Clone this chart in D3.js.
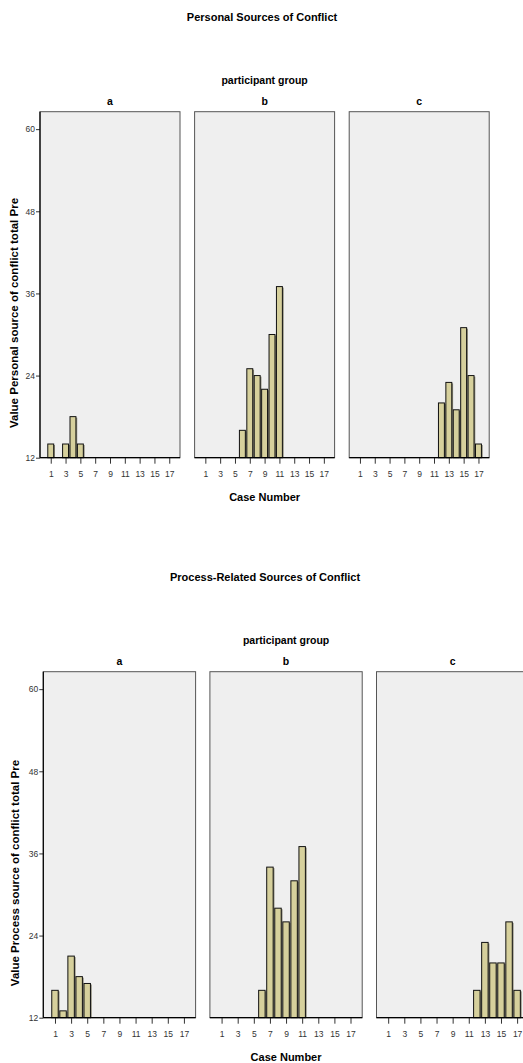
<!DOCTYPE html>
<html>
<head>
<meta charset="utf-8">
<script src="https://cdn.jsdelivr.net/npm/d3@7"></script>
<style>
  html, body { margin: 0; padding: 0; background: #fff; }
  svg { display: block; font-family: "Liberation Sans", Arial, sans-serif; }
</style>
</head>
<body>
<svg id="chart" width="523" height="1063"></svg>
<script>
// Case numbers shown on the x axis of each panel
const caseNumbers = d3.range(1, 18);
const caseTicks = [1, 3, 5, 7, 9, 11, 13, 15, 17];
const valueTicks = [12, 24, 36, 48, 60];
const groups = ["a", "b", "c"];

// Personal source of conflict total (Pre), by case, one array per group (null = no case)
const personalA = [14, null, 14, 18, 14, null, null, null, null, null, null, null, null, null, null, null, null];
const personalB = [null, null, null, null, null, 16, 25, 24, 22, 30, 37, null, null, null, null, null, null];
const personalC = [null, null, null, null, null, null, null, null, null, null, null, 20, 23, 19, 31, 24, 14];

// Process source of conflict total (Pre), by case
const processA = [16, 13, 21, 18, 17, null, null, null, null, null, null, null, null, null, null, null, null];
const processB = [null, null, null, null, null, 16, 34, 28, 26, 32, 37, null, null, null, null, null, null];
const processC = [null, null, null, null, null, null, null, null, null, null, null, 16, 23, 20, 20, 26, 16];

const svg = d3.select("#chart");

const barFill = "#d6d09c";
const panelFill = "#efefef";

function drawChart(cfg) {
  const g = svg.append("g");
  const y = d3.scaleLinear().domain([12, 62.55]).range([cfg.bottom, cfg.top]);

  // chart title
  g.append("text")
    .attr("x", cfg.titleX).attr("y", cfg.titleY)
    .attr("text-anchor", "middle")
    .attr("font-size", 11).attr("font-weight", "bold")
    .text(cfg.title);

  const midX = cfg.left + 1.5 * cfg.width + cfg.gap;
  g.append("text")
    .attr("x", midX).attr("y", cfg.top - 28)
    .attr("text-anchor", "middle")
    .attr("font-size", 10.5).attr("font-weight", "bold")
    .text("participant group");

  cfg.series.forEach((vals, i) => {
    const x0 = cfg.left + i * (cfg.width + cfg.gap);
    const x = d3.scaleLinear().domain([-0.45, 18.45]).range([x0, x0 + cfg.width]);
    const bw = (x(1) - x(0)) * 0.8;
    const p = g.append("g");

    p.append("rect")
      .attr("x", x0).attr("y", cfg.top)
      .attr("width", cfg.width).attr("height", cfg.bottom - cfg.top)
      .attr("fill", panelFill).attr("stroke", "#555").attr("stroke-width", 1);

    p.append("text")
      .attr("x", x0 + cfg.width / 2).attr("y", cfg.top - 7)
      .attr("text-anchor", "middle")
      .attr("font-size", 10.5).attr("font-weight", "bold")
      .text(groups[i]);

    const data = caseNumbers.map((c, k) => ({ c, v: vals[k] })).filter(d => d.v != null);

    // bar shadows
    p.selectAll("rect.shadow").data(data).join("rect")
      .attr("class", "shadow")
      .attr("x", d => x(d.c) - bw / 2 + 1.3)
      .attr("y", d => y(d.v) + 1)
      .attr("width", bw)
      .attr("height", d => y(12) - y(d.v) - 1)
      .attr("fill", "#8c8a78");

    p.selectAll("rect.bar").data(data).join("rect")
      .attr("class", "bar")
      .attr("x", d => x(d.c) - bw / 2)
      .attr("y", d => y(d.v))
      .attr("width", bw)
      .attr("height", d => y(12) - y(d.v))
      .attr("fill", barFill).attr("stroke", "#111").attr("stroke-width", 1);

    // x axis
    const xa = p.append("g")
      .attr("transform", `translate(0,${cfg.bottom})`)
      .call(d3.axisBottom(x).tickValues(caseTicks).tickSize(6).tickPadding(7).tickSizeOuter(0));
    xa.select(".domain").remove();
    xa.append("line").attr("x1", x0).attr("x2", x0 + cfg.width).attr("stroke", "#000").attr("stroke-width", 1.2);
    xa.selectAll(".tick line").attr("stroke", "#333");
    xa.selectAll(".tick text").attr("font-size", 8.5).attr("fill", "#333")
      .attr("font-family", "Liberation Sans, Arial, sans-serif");

    if (i === 0) {
      const ya = p.append("g")
        .attr("transform", `translate(${x0},0)`)
        .call(d3.axisLeft(y).tickValues(valueTicks).tickSize(4).tickPadding(1).tickSizeOuter(0));
      ya.select(".domain").remove();
      ya.append("line").attr("y1", cfg.top).attr("y2", cfg.bottom).attr("stroke", "#000").attr("stroke-width", 1.2);
      ya.selectAll(".tick line").attr("stroke", "#333");
      ya.selectAll(".tick text").attr("font-size", 8.5).attr("fill", "#333")
        .attr("font-family", "Liberation Sans, Arial, sans-serif");
    }
  });

  // axis titles
  g.append("text")
    .attr("x", midX).attr("y", cfg.bottom + 43)
    .attr("text-anchor", "middle")
    .attr("font-size", 11).attr("font-weight", "bold")
    .text("Case Number");

  g.append("text")
    .attr("transform", `translate(${cfg.yTitleX},${cfg.yTitleY}) rotate(-90)`)
    .attr("text-anchor", "middle")
    .attr("font-size", 11.5).attr("font-weight", "bold")
    .text(cfg.yTitle);
}

drawChart({
  title: "Personal Sources of Conflict", titleX: 262, titleY: 21,
  yTitle: "Value Personal source of conflict total Pre", yTitleX: 18, yTitleY: 313,
  left: 40, width: 140, gap: 14.6, top: 111.7, bottom: 457.7,
  series: [personalA, personalB, personalC]
});

drawChart({
  title: "Process-Related Sources of Conflict", titleX: 265, titleY: 581,
  yTitle: "Value Process source of conflict total Pre", yTitleX: 19, yTitleY: 873,
  left: 43.3, width: 152.3, gap: 14.3, top: 671.7, bottom: 1017.7,
  series: [processA, processB, processC]
});
</script>
</body>
</html>
